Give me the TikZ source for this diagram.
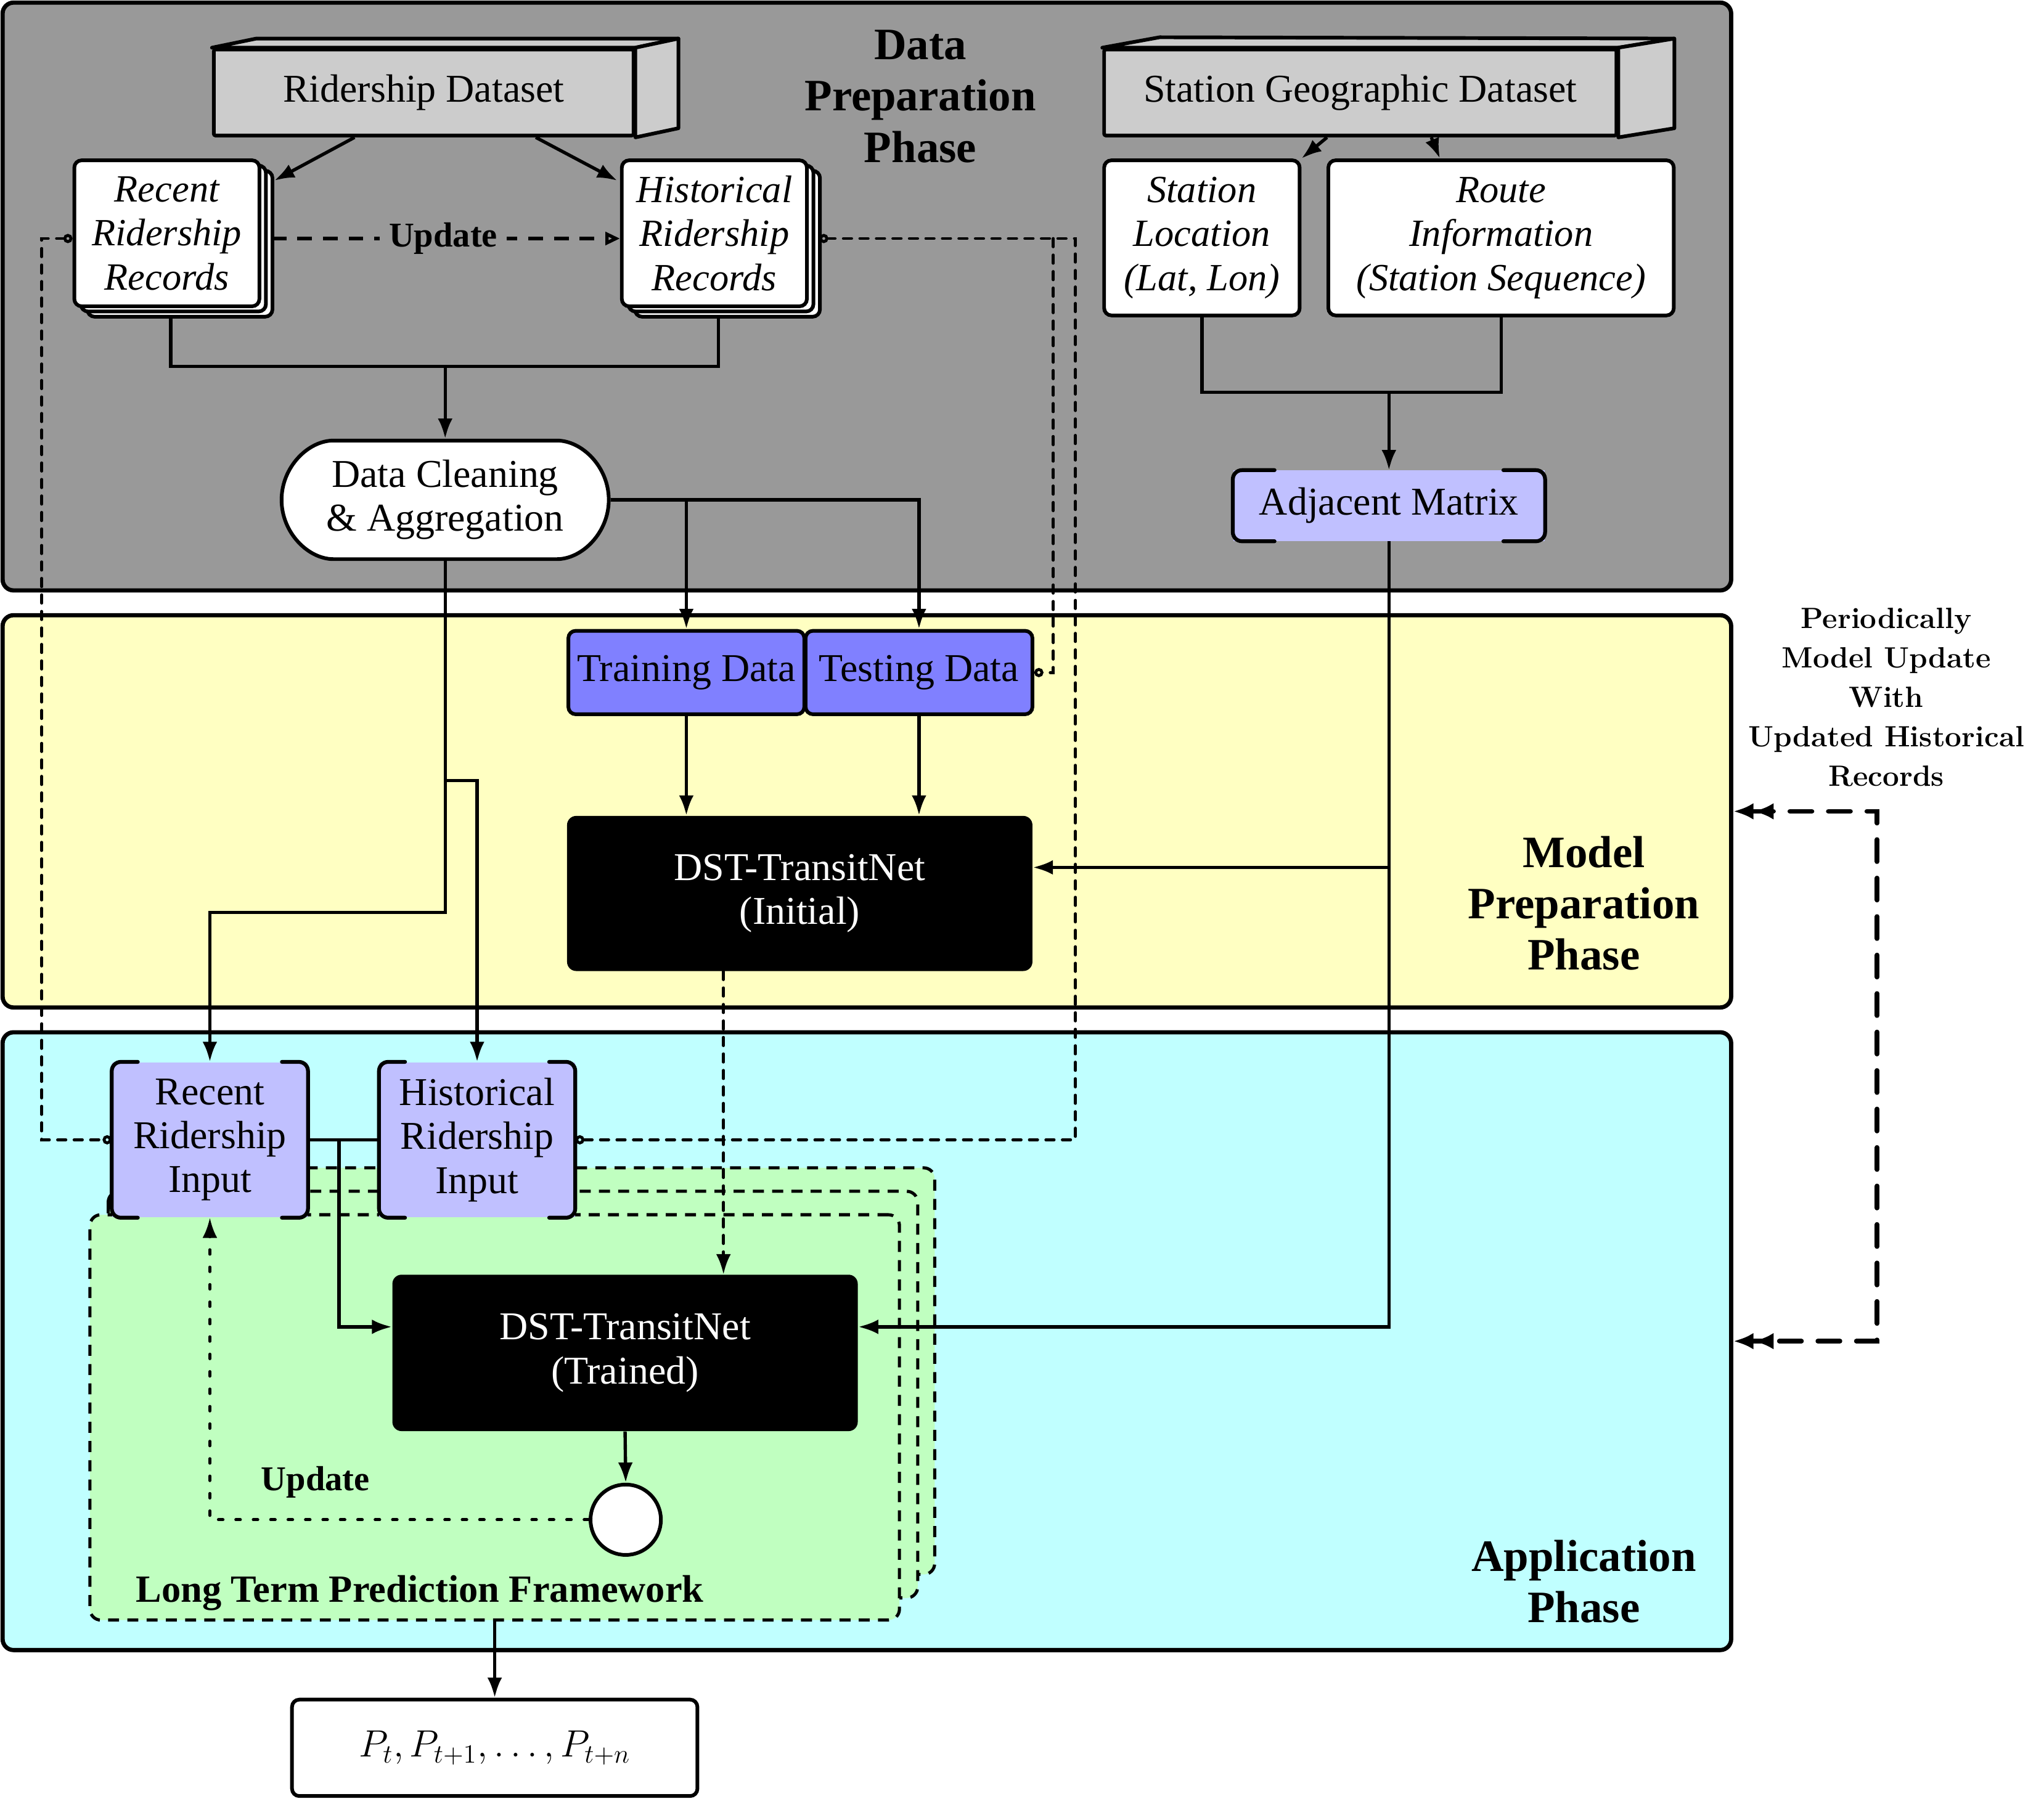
\documentclass[tikz,border=0pt]{standalone}
\usepackage{fontspec}
\newfontfamily\tnr{Liberation Serif}
\usetikzlibrary{arrows.meta,shapes.misc,calc}
\newdimen\pxu \pxu=0.025cm
\definecolor{pgray}{HTML}{999999}
\definecolor{pyellow}{HTML}{FFFFC2}
\definecolor{pcyan}{HTML}{C0FFFF}
\definecolor{pgreen}{HTML}{C0FFC0}
\definecolor{lav}{HTML}{C0C0FF}
\definecolor{mblue}{HTML}{8080FF}
\definecolor{lgray}{HTML}{CCCCCC}
\newcommand\bracketsfor[2]{%
  \draw[brline] ([xshift=#2]#1.north west) -- (#1.north west) -- (#1.south west) -- ([xshift=#2]#1.south west);
  \draw[brline] ([xshift=-#2]#1.north east) -- (#1.north east) -- (#1.south east) -- ([xshift=-#2]#1.south east);}
\tikzset{
  every node/.style={font=\tnr\fontsize{21.5}{24}\selectfont, align=center, inner sep=0pt},
  panel/.style={draw, line width=2.3pt, rounded corners=6pt},
  box/.style={draw, line width=2pt, rounded corners=4pt, fill=white},
  itbox/.style={box, font=\tnr\fontsize{21}{24}\selectfont\itshape},
  face/.style={draw, line width=2pt, fill=lgray, line join=round},
  brfill/.style={fill=lav},
  brline/.style={line width=2.1pt, rounded corners=5pt, line cap=round},
  dstbox/.style={fill=black, rounded corners=5pt, text=white},
  greenbox/.style={draw, line width=1.7pt, dash pattern=on 6pt off 4.5pt, rounded corners=6pt, fill=pgreen},
  title/.style={font=\tnr\fontsize{24.5}{28}\selectfont\bfseries},
  conn/.style={line width=1.8pt},
  myL/.tip={Latex[length=11pt,width=8pt]},
  myO/.tip={Circle[open,length=5pt,width=5pt]},
  myT/.tip={Triangle[open,length=8pt,width=7pt]},
  arr/.style={conn, -myL},
  cdash/.style={line width=1.6pt, dash pattern=on 4.5pt off 4.5pt, line cap=round},
  udash/.style={line width=1.6pt, dash pattern=on 2.5pt off 7pt, line cap=round},
  updtop/.style={line width=1.8pt, dash pattern=on 8pt off 6pt},
  perd/.style={line width=2.6pt, dash pattern=on 12pt off 9pt, line cap=round},
  lbl/.style={font=\tnr\fontsize{19}{22}\selectfont\bfseries}
}
\begin{document}
\begin{tikzpicture}[x=0.025cm,y=-0.025cm]
\useasboundingbox (0,0) rectangle (1568,1380);
% panels
\node[panel, fill=pgray, minimum width=1326\pxu, minimum height=451\pxu] (gp) at (665,227.5) {};
\node[panel, fill=pyellow, minimum width=1326\pxu, minimum height=301\pxu] (yp) at (665,622.5) {};
\node[panel, fill=pcyan, minimum width=1326\pxu, minimum height=474\pxu] (cp) at (665,1029) {};
% titles
\node[title] (t1) at (706,74) {Data\\Preparation\\Phase};
\node[title] (t2) at (1215,693) {Model\\Preparation\\Phase};
\node[title] (t3) at (1215,1213.5) {Application\\Phase};
\node[font=\fontsize{16}{21.5}\selectfont\bfseries] (plabel) at (1447,535) {Periodically\\Model Update\\With\\Updated Historical\\Records};
% 3D datasets
\node[face, rounded corners=1pt, minimum width=322\pxu, minimum height=66\pxu] (rd) at (325,71) {Ridership Dataset};
\draw[face] (rd.north west) -- ([shift={(34,-7)}]rd.north west) -- ([shift={(33,-7)}]rd.north east) -- (rd.north east) -- cycle;
\draw[face] (rd.north east) -- ([shift={(33,-7)}]rd.north east) -- ([shift={(33,-7)}]rd.south east) -- (rd.south east) -- cycle;
\node[face, rounded corners=1pt, minimum width=393\pxu, minimum height=66\pxu] (sgd) at (1043.5,71) {Station Geographic Dataset};
\draw[face] (sgd.north west) -- ([shift={(44,-8)}]sgd.north west) -- ([shift={(43,-7)}]sgd.north east) -- (sgd.north east) -- cycle;
\draw[face] (sgd.north east) -- ([shift={(43,-7)}]sgd.north east) -- ([shift={(43,-7)}]sgd.south east) -- (sgd.south east) -- cycle;
% stacked records
\draw[box] (67,131) rectangle (209,243);
\draw[box] (62,127) rectangle (204,239);
\node[itbox, minimum width=142\pxu, minimum height=112\pxu] (rrr) at (128,179) {Recent\\Ridership\\Records};
\draw[box] (487,131) rectangle (629,243);
\draw[box] (482,127) rectangle (624,239);
\node[itbox, minimum width=142\pxu, minimum height=112\pxu] (hrr) at (548,179) {Historical\\Ridership\\Records};
% station info
\node[itbox, minimum width=150\pxu, minimum height=119\pxu] (sl) at (922,182.5) {Station\\Location\\(Lat, Lon)};
\node[itbox, minimum width=265\pxu, minimum height=119\pxu] (ri) at (1151.5,182.5) {Route\\Information\\(Station Sequence)};
% data cleaning
\node[box, rounded rectangle, minimum width=251\pxu, minimum height=91\pxu] (dc) at (341.5,383.5) {Data Cleaning\\\& Aggregation};
% adjacent matrix
\node[brfill, minimum width=239\pxu, minimum height=54\pxu] (am) at (1065.5,388) {Adjacent Matrix};
\bracketsfor{am}{32\pxu}
% training / testing
\node[box, fill=mblue, minimum width=181\pxu, minimum height=64\pxu] (td) at (526.5,516) {Training Data};
\node[box, fill=mblue, minimum width=174\pxu, minimum height=64\pxu] (ts) at (705,516) {Testing Data};
\node[dstbox, minimum width=357\pxu, minimum height=119\pxu] (dsti) at (613.5,685.5) {DST-TransitNet\\(Initial)};
% long term prediction framework
\draw[greenbox] (97,896) rectangle (717,1208);
\draw[greenbox] (83,914) rectangle (704,1226);
\node[greenbox, minimum width=621\pxu, minimum height=311\pxu] (ltpf) at (379.5,1087.5) {};
\node[font=\tnr\fontsize{21}{24}\selectfont\bfseries] (ltpft) at (322,1222) {Long Term Prediction Framework};
% inputs
\node[brfill, minimum width=150\pxu, minimum height=119\pxu] (rri) at (161,874.5) {Recent\\Ridership\\Input};
\bracketsfor{rri}{20\pxu}
\node[brfill, minimum width=150\pxu, minimum height=119\pxu] (hri) at (366,874.5) {Historical\\Ridership\\Input};
\bracketsfor{hri}{20\pxu}
\node[dstbox, minimum width=357\pxu, minimum height=120\pxu] (dstt) at (479.5,1038) {DST-TransitNet\\(Trained)};
\node[draw, line width=2pt, fill=white, circle, minimum size=54\pxu] (circ) at (480,1166) {};
\node[lbl] (upd2) at (242,1137) {Update};
\node[box, minimum width=311\pxu, minimum height=74\pxu] (out) at (379.5,1341) {\fontsize{20}{24}\selectfont$P_t, P_{t+1}, \ldots, P_{t+n}$};
% ---------- connectors
\draw[arr] ([xshift=-53\pxu]rd.south) -- ([shift={(10,17)}]rrr.north east);
\draw[arr] ([xshift=86\pxu]rd.south) -- ([shift={(-2,17)}]hrr.north west);
\draw[arr] ([xshift=-25.5\pxu]sgd.south) -- (sl.north east);
\draw[arr] ([xshift=54.5\pxu]sgd.south) -- ([xshift=87\pxu]ri.north west);
\coordinate (j1) at (341.5,281);
\draw[conn] ([shift={(3,8)}]rrr.south) |- (j1) -| ([shift={(3,8)}]hrr.south);
\draw[arr] (j1) -- (dc.north);
\coordinate (j2) at (td.north |- dc.east);
\draw[arr] (dc.east) -| (ts.north);
\draw[arr] (j2) -- (td.north);
\coordinate (j6) at (1065.5,301);
\draw[conn] (sl.south) |- (j6) -| (ri.south);
\draw[arr] (j6) -- (am.north);
\draw[arr] (td.south) -- (td.south |- dsti.north);
\draw[arr] (ts.south) -- (ts.south |- dsti.north);
\coordinate (j7) at ([yshift=20\pxu]dsti.east);
\draw[arr] (j7 -| am.south) -- (j7);
\coordinate (j8) at ([yshift=20\pxu]dstt.east);
\draw[arr] (am.south) |- (j8);
\coordinate (j9) at ([xshift=-58.5\pxu]dsti.south);
\draw[cdash, -myL] (j9) -- (j9 |- dstt.north);
\draw[conn] (rri.east) -- (hri.west);
\coordinate (j10) at (260,874.5);
\coordinate (j11) at ([yshift=20\pxu]dstt.west);
\draw[arr] (j10) |- (j11);
\coordinate (j3) at (341.5,700);
\draw[arr] (dc.south) -- (j3) -| (rri.north);
\coordinate (j4) at (341.5,599);
\draw[arr] (j4) -| (hri.north);
\draw[arr] (dstt.south) -- (circ.north);
\draw[udash, -myL] (circ.west) -| (rri.south);
\draw[arr] (ltpf.south) -- (out.north);
\draw[updtop, -myT] ([shift={(8,4)}]rrr.east) -- ([yshift=-4\pxu]hrr.west);
\node[lbl, fill=pgray, inner xsep=5pt, inner ysep=3pt] (upd1) at (340,183) {Update};
\coordinate (c1) at (32,183);
\coordinate (c2) at (32,874.5);
\draw[cdash, myO-myO] ([yshift=-4\pxu]rrr.west) -- (c1) -- (c2) -- (rri.west);
\coordinate (c3) at (825,183);
\coordinate (c4) at (825,874.5);
\draw[cdash, myO-myO] ([shift={(8,4)}]hrr.east) -- (c3) -- (c4) -- (hri.east);
\coordinate (c5) at (808,183);
\coordinate (c6) at (808,516);
\draw[cdash, -myO] (c5) -- (c6) -- (ts.east);
\coordinate (p1) at (1440,622.5);
\coordinate (p2) at (1440,1029);
\draw[perd, {Latex[length=11pt,width=9pt]Latex[length=11pt,width=9pt]}-{Latex[length=11pt,width=9pt]Latex[length=11pt,width=9pt]}] (yp.east) -- (p1) -- (p2) -- (cp.east);
\end{tikzpicture}
\end{document}
